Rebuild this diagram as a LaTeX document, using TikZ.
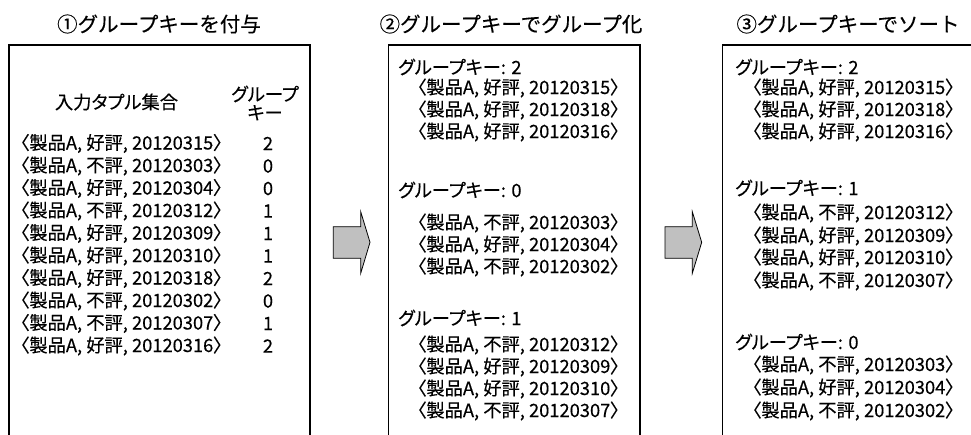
\documentclass[tikz,border=0pt]{standalone}
\usepackage{fontspec}
\setmainfont{Noto Sans CJK JP}[RawFeature={+palt},FakeBold=0.3]
\newfontfamily\titlefont{Noto Sans CJK JP}[FakeBold=0.3]
\definecolor{arrowgray}{RGB}{192,192,192}
\tikzset{
  panel/.style={draw=black,line width=1.2pt},
  bigarrow/.style={draw=black,line width=0.8pt,fill=arrowgray,line join=miter},
  title/.style={inner sep=0pt,font=\titlefont\fontsize{20.5}{22}\selectfont},
  txt/.style={inner sep=0pt,anchor=west,font=\fontsize{18.3}{20}\selectfont},
  ctxt/.style={inner sep=0pt,font=\fontsize{18.3}{18.5}\selectfont,align=center}
}
\begin{document}
\begin{tikzpicture}[x=1pt,y=-1pt]
\useasboundingbox (0,0) rectangle (971,434);
\clip (0,0) rectangle (971,434);
% panels (open at the bottom)
\draw[panel] (9,440) -- (9,45) -- (310,45) -- (310,440);
\draw[panel] (388.3,440) -- (388.3,45) -- (640,45) -- (640,440);
\draw[panel] (722.7,440) -- (722.7,45) -- (973,45) -- (973,440);
% titles
\node[title] (title1) at (159,24) {①グループキーを付与};
\node[title] (title2) at (511,24) {②グループキーでグループ化};
\node[title] (title3) at (848,24) {③グループキーでソート};
% arrows
\draw[bigarrow] (333.3,226.7) -- (360.7,226.7) -- (360.7,211.7) -- (370,242.3) -- (360.7,273.3) -- (360.7,258.3) -- (333.3,258.3) -- cycle;
\draw[bigarrow] (665,226.7) -- (692.3,226.7) -- (692.3,211.7) -- (701.7,242.3) -- (692.3,273.3) -- (692.3,258.3) -- (665,258.3) -- cycle;
% panel 1
\node[ctxt] (head1) at (116.5,102) {入力タプル集合};
\node[ctxt] (head2) at (265,103) {グループ\\キー};
\foreach \i/\e/\d/\k in {0/好評/20120315/2,1/不評/20120303/0,2/好評/20120304/0,3/不評/20120312/1,4/好評/20120309/1,5/好評/20120310/1,6/好評/20120318/2,7/不評/20120302/0,8/不評/20120307/1,9/好評/20120316/2}{
  \node[txt] (in\i) at (20,143.5+22.5*\i) {〈製品A, \e, \d〉};
  \node[ctxt] (key\i) at (268,143.5+22.5*\i) {\k};
}
% panel 2
\node[txt] (gA) at (398,67) {グループキー: 2};
\foreach \y/\e/\d [count=\n] in {88/好評/20120315,110/好評/20120318,132/好評/20120316}{
  \node[txt] (gA\n) at (417,\y) {〈製品A, \e, \d〉};
}
\node[txt] (gB) at (398,190) {グループキー: 0};
\foreach \y/\e/\d [count=\n] in {223/不評/20120303,245/好評/20120304,267/不評/20120302}{
  \node[txt] (gB\n) at (417,\y) {〈製品A, \e, \d〉};
}
\node[txt] (gC) at (398,318) {グループキー: 1};
\foreach \y/\e/\d [count=\n] in {345/不評/20120312,367/好評/20120309,389/好評/20120310,411/不評/20120307}{
  \node[txt] (gC\n) at (417,\y) {〈製品A, \e, \d〉};
}
% panel 3
\node[txt] (sA) at (735,67) {グループキー: 2};
\foreach \y/\e/\d [count=\n] in {88/好評/20120315,110/好評/20120318,132/好評/20120316}{
  \node[txt] (sA\n) at (752,\y) {〈製品A, \e, \d〉};
}
\node[txt] (sB) at (735,188) {グループキー: 1};
\foreach \y/\e/\d [count=\n] in {213/不評/20120312,236/好評/20120309,258/好評/20120310,281/不評/20120307}{
  \node[txt] (sB\n) at (752,\y) {〈製品A, \e, \d〉};
}
\node[txt] (sC) at (735,342) {グループキー: 0};
\foreach \y/\e/\d [count=\n] in {365/不評/20120303,388/好評/20120304,411/不評/20120302}{
  \node[txt] (sC\n) at (752,\y) {〈製品A, \e, \d〉};
}
\end{tikzpicture}
\end{document}
